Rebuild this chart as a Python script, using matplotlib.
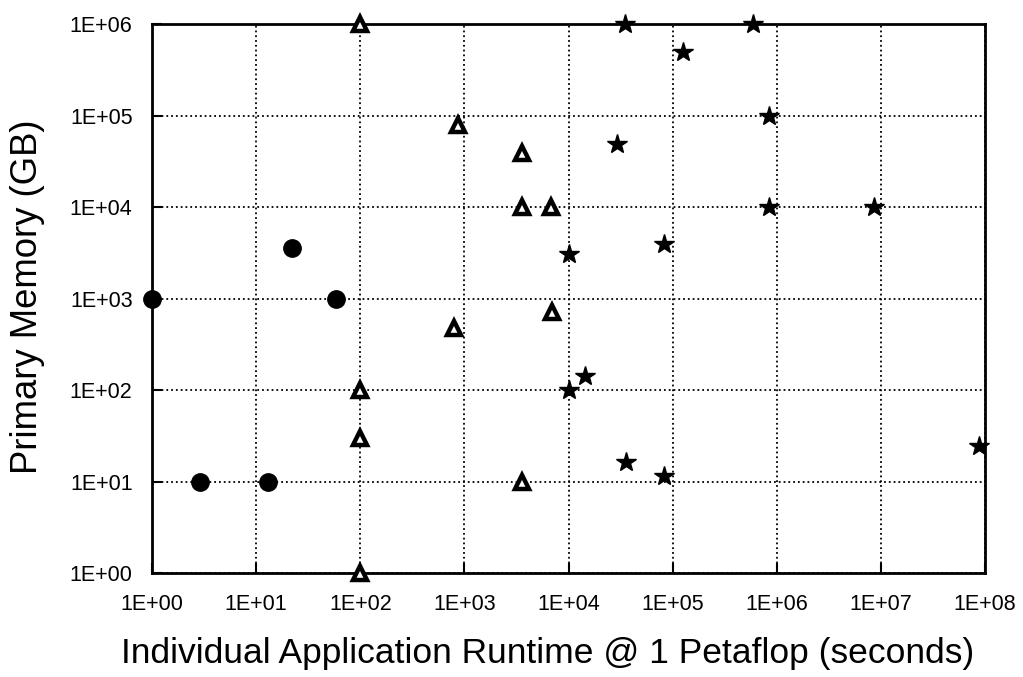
import numpy as np
import matplotlib
matplotlib.use("Agg")
import matplotlib.pyplot as plt
from matplotlib.ticker import FixedLocator, NullLocator

plt.rcParams["font.family"] = ["Liberation Sans", "DejaVu Sans"]

# ── Data ───────────────────────────────────────────────────────────────
circle_runtime = [1, 22, 59, 2.9, 13]
circle_memory  = [1000, 3550, 1000, 10, 10]

tri_runtime = [100, 870, 3600, 3600, 6800, 6900, 800, 100, 100, 100, 3600]
tri_memory  = [1e6, 78000, 39000, 10000, 10000, 720, 480, 100, 30, 1, 10]

star_runtime = [10200, 10000, 34600, 590000, 126000, 850000, 29000,
                850000, 8.5e6, 83000, 14300, 36000, 83000, 8.7e7]
star_memory  = [3100, 100, 1e6, 1e6, 490000, 1e5, 49000,
                1e4, 1e4, 3900, 142, 16.5, 11.4, 24.5]

x_ticks = [10.0 ** k for k in range(0, 9)]
y_ticks = [10.0 ** k for k in range(0, 7)]
x_labels = ["1E+%02d" % k for k in range(0, 9)]
y_labels = ["1E+%02d" % k for k in range(0, 7)]

# ── Plot ───────────────────────────────────────────────────────────────
fig = plt.figure(figsize=(10.23, 6.77), dpi=100)
ax = fig.add_axes([0.1486, 0.1536, 0.8143, 0.8109])

ax.set_xscale("log")
ax.set_yscale("log")
ax.set_xlim(1, 1e8)
ax.set_ylim(1, 1e6)

ax.plot(circle_runtime, circle_memory, "o", color="black",
        markersize=12.5, clip_on=False, zorder=3)
ax.plot(tri_runtime, tri_memory, "^", markerfacecolor="white",
        markeredgecolor="black", markeredgewidth=3.2,
        markersize=10.5, clip_on=False, zorder=3)
ax.plot(star_runtime, star_memory, "*", color="black",
        markersize=15, clip_on=False, zorder=3)

ax.xaxis.set_major_locator(FixedLocator(x_ticks))
ax.yaxis.set_major_locator(FixedLocator(y_ticks))
ax.xaxis.set_minor_locator(NullLocator())
ax.yaxis.set_minor_locator(NullLocator())
ax.set_xticklabels(x_labels)
ax.set_yticklabels(y_labels)

ax.tick_params(axis="both", direction="in", length=7, width=1.5,
               labelsize=15.5, colors="black")
ax.tick_params(axis="x", pad=15)
ax.tick_params(axis="y", pad=14)

ax.grid(True, which="major", color="black", linestyle=":", linewidth=1.3)
ax.set_axisbelow(True)

for side in ax.spines.values():
    side.set_linewidth(2)
    side.set_color("black")

ax.set_xlabel("Individual Application Runtime @ 1 Petaflop (seconds)",
              fontsize=25.5, va="center")
ax.set_ylabel("Primary Memory (GB)", fontsize=26.3, va="center")
ax.xaxis.set_label_coords(0.475, -0.146)
ax.yaxis.set_label_coords(-0.149, 0.503)

plt.savefig("out.png", dpi=100)
